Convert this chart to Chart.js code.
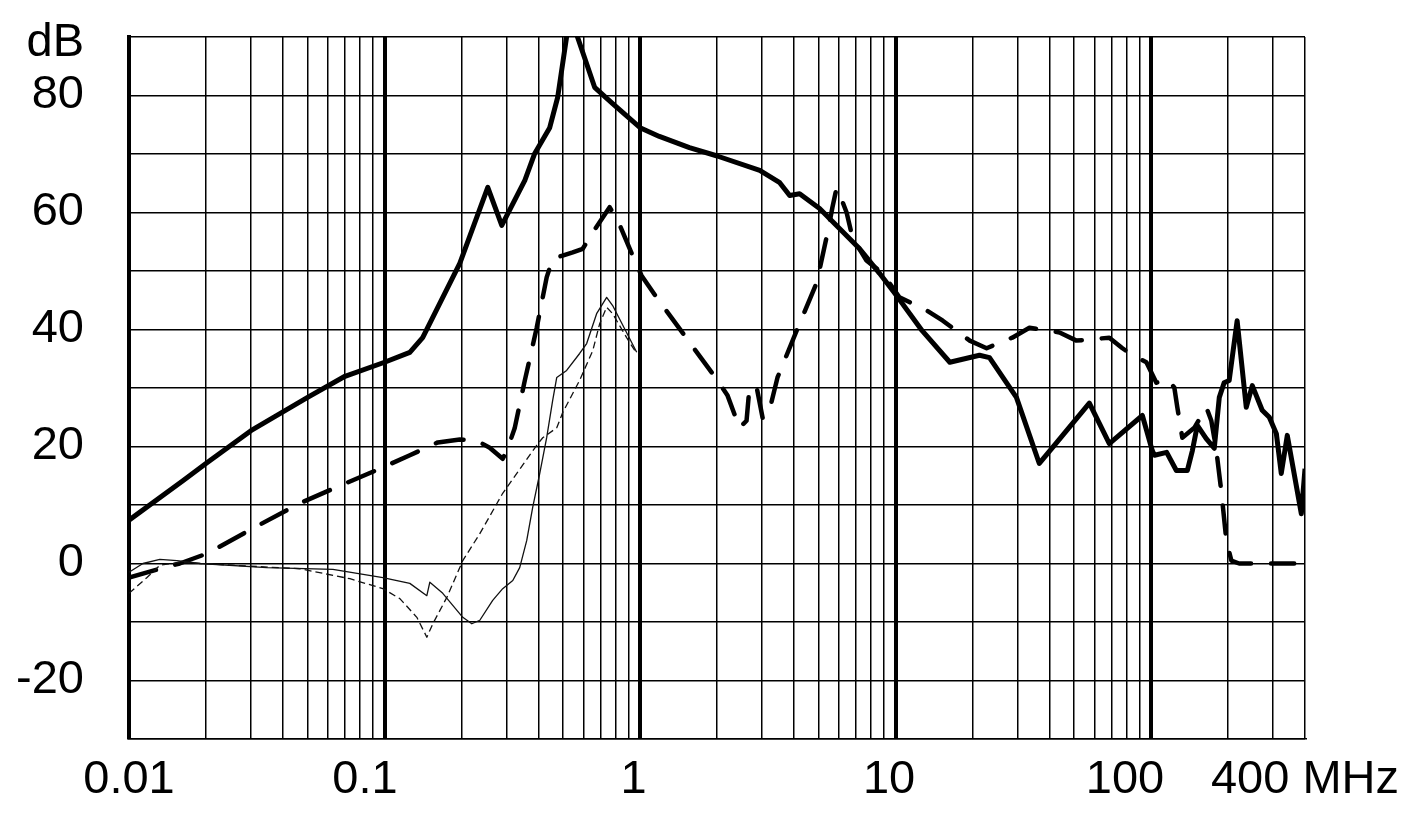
<!DOCTYPE html>
<html><head><meta charset="utf-8">
<script src="https://cdn.jsdelivr.net/npm/chart.js@4/dist/chart.umd.min.js"></script>
<style>html,body{margin:0;padding:0;background:#fff;}#wrap{width:1420px;height:819px;}</style>
</head><body><div id="wrap"><canvas id="c" width="1420" height="819"></canvas></div>
<script>
// ---- Data (frequency in MHz, level in dB) ----
const S1_FREQ = [0.01,0.0163,0.02,0.03,0.05,0.07,0.1,0.1256,0.141,0.197,0.2535,0.2876,0.354,0.387,0.443,0.476,0.532,0.570,0.664,0.781,1.0,1.19,1.56,1.99,2.94,3.52,3.85,4.21,5.04,7.23,8.65,10.08,12.7,16.3,21.3,23.3,29.7,36.5,41.1,57.3,68.6,92.4,101,103,115,125.5,138.6,145,151.6,164,176.6,184.8,193,202,217,235.6,248.8,272,290,309,323,341,387,400];
const S1_DB   = [7.4,14.2,17.1,22.7,28.4,32.0,34.4,36.1,38.6,51.3,64.3,57.8,65.5,70.1,74.5,79.7,94.0,89.9,81.4,78.6,74.5,73.0,71.1,69.7,67.2,65.1,62.9,63.2,60.7,53.8,49.6,45.8,39.8,34.4,35.6,35.2,28.4,17.1,19.8,27.4,20.5,25.3,19.3,18.5,19.0,15.9,15.9,19.3,23.6,21.4,19.7,28.4,30.9,31.3,41.5,26.7,30.4,26.2,25.0,22.2,15.4,21.9,8.5,16.2];

const S2_FREQ = [0.01,0.0132,0.0158,0.0202,0.0305,0.0466,0.0712,0.0959,0.1256,0.1616,0.197,0.2296,0.258,0.290,0.301,0.323,0.354,0.394,0.431,0.455,0.494,0.545,0.5965,0.653,0.760,0.817,0.927,1.014,1.16,1.52,2.01,2.20,2.45,2.61,2.68,2.86,3.02,3.21,3.45,4.10,4.91,5.42,5.66,5.87,6.03,6.43,6.78,7.69,8.89,10.35,13.3,15.3,19.5,22.7,28.6,33.4,43.8,51.0,68.6,77.2,84.4,95.8,104.8,114.7,123.2,126.6,132.4,147.5,164.4,172,180,188,197,206,221,363];
const S2_DB   = [-2.4,-0.9,0,1.7,6.0,10.3,13.8,16.2,18.5,20.7,21.2,21.0,19.8,17.9,19.3,23.1,31.3,40.3,48.9,52.1,52.6,53.2,53.8,56.6,60.9,58.7,53.0,49.2,45.5,38.5,31.3,28.7,23.2,24.4,30.1,30.1,24.8,26.2,31.8,39.8,48.0,56.6,60.9,64.1,63.2,60.0,55.7,51.8,49.6,45.5,43.2,41.5,38.1,36.8,38.6,40.3,39.5,38.1,38.6,36.8,35.6,34.4,30.9,31.6,30.1,26.7,21.5,23.2,26.7,24.4,19.3,12.5,3.9,0.5,0,0];

const S3_FREQ = [0.01,0.01134,0.0132,0.0154,0.019,0.0346,0.0628,0.0985,0.1256,0.1464,0.1504,0.169,0.2024,0.2195,0.236,0.265,0.290,0.3176,0.338,0.360,0.380,0.405,0.431,0.455,0.472,0.516,0.58,0.618,0.676,0.740,0.781,0.970];
const S3_DB   = [-1.5,0,0.7,0.5,0,-0.7,-1.0,-2.4,-3.4,-5.5,-3.2,-5.1,-9.2,-10.3,-9.7,-6.3,-4.3,-2.9,-0.7,3.9,9.6,15.4,21.5,27.9,31.8,33.0,35.9,37.6,42.7,45.5,44.1,36.1];

const S4_FREQ = [0.01,0.01176,0.0132,0.0158,0.0255,0.0466,0.0732,0.0985,0.1148,0.1338,0.1464,0.1545,0.1753,0.2024,0.236,0.290,0.394,0.416,0.472,0.498,0.58,0.653,0.695,0.740,0.781,0.886,0.970];
const S4_DB   = [-5.1,-2.4,-0.3,0.2,-0.3,-0.9,-2.6,-4.3,-6.0,-9.2,-12.6,-10.3,-5.8,0.5,5.1,12.0,20.2,21.5,23.2,25.8,31.3,36.4,41.0,43.8,42.7,38.6,35.9];

// Axis ticks and labels
const X_GRID = [0.01,0.02,0.03,0.04,0.05,0.06,0.07,0.08,0.09,0.1,0.2,0.3,0.4,0.5,0.6,0.7,0.8,0.9,1,2,3,4,5,6,7,8,9,10,20,30,40,50,60,70,80,90,100,200,300,400];
const X_LABEL_VALUES = [0.01,0.1,1,10,100,400];
const X_LABEL_TEXT   = ['0.01','0.1','1','10','100','400 MHz'];
const Y_LABEL_VALUES = [90,80,60,40,20,0,-20];
const Y_LABEL_TEXT   = ['dB','80','60','40','20','0','-20'];

// label nudges (trailing spaces shift centred text left)
const X_LABEL_PAD = {'0.1':3,'1':1,'10':1,'100':4};

const pts = (f, d) => f.map((v, i) => ({x: v, y: d[i]}));
const near = (a, b) => Math.abs(a - b) < 1e-9 * Math.max(1, Math.abs(b));
const FONT = {family: '"Liberation Sans", Arial, sans-serif', size: 47};
const UNIT_FONT = Object.assign({}, FONT, {lineHeight: '12px'});

new Chart(document.getElementById('c'), {
  type: 'line',
  data: {
    datasets: [
      {data: pts(S4_FREQ, S4_DB), borderColor: '#111', borderWidth: 1.3, borderDash: [7, 4]},
      {data: pts(S3_FREQ, S3_DB), borderColor: '#111', borderWidth: 1.3},
      {data: pts(S2_FREQ, S2_DB), borderColor: '#000', borderWidth: 4.5, borderDash: [28, 20], borderCapStyle: 'round'},
      {data: pts(S1_FREQ, S1_DB), borderColor: '#000', borderWidth: 5}
    ]
  },
  options: {
    responsive: false,
    animation: false,
    devicePixelRatio: 1,
    clip: 0,
    layout: {padding: {top: 0, right: 115, bottom: 0, left: 0}},
    elements: {point: {radius: 0}, line: {tension: 0, borderJoinStyle: 'round', fill: false}},
    plugins: {legend: {display: false}, tooltip: {enabled: false}},
    scales: {
      x: {
        type: 'logarithmic',
        min: 0.01, max: 400,
        afterBuildTicks: s => { s.ticks = X_GRID.map(v => ({value: v})); },
        afterFit: s => { s.height = 80; },
        grid: {
          color: '#000',
          drawTicks: false,
          lineWidth: c => { const l = Math.log10(c.tick.value); return Math.abs(l - Math.round(l)) < 1e-6 ? 4 : 1.5; }
        },
        border: {display: true, color: '#000', width: 1.5},
        ticks: {
          autoSkip: false, maxRotation: 0, minRotation: 0, padding: 13, color: '#000', font: FONT,
          callback: v => {
            const i = X_LABEL_VALUES.findIndex(t => near(v, t));
            if (i < 0) return '';
            const t = X_LABEL_TEXT[i];
            return t + ' '.repeat(X_LABEL_PAD[t] || 0);
          }
        }
      },
      y: {
        type: 'linear',
        min: -30, max: 90,
        afterFit: s => { s.width = 129; s.paddingTop = 37; s.paddingBottom = 0; },
        grid: {color: '#000', lineWidth: 1.5, drawTicks: false},
        border: {display: true, color: '#000', width: 4},
        ticks: {
          stepSize: 10, autoSkip: false, padding: 45, color: '#000',
          font: c => (c.tick && c.tick.value === 90) ? UNIT_FONT : FONT,
          callback: v => {
            const i = Y_LABEL_VALUES.indexOf(v);
            if (i < 0) return '';
            return v === 90 ? ['', Y_LABEL_TEXT[i]] : Y_LABEL_TEXT[i];
          }
        }
      }
    }
  }
});
</script></body></html>
